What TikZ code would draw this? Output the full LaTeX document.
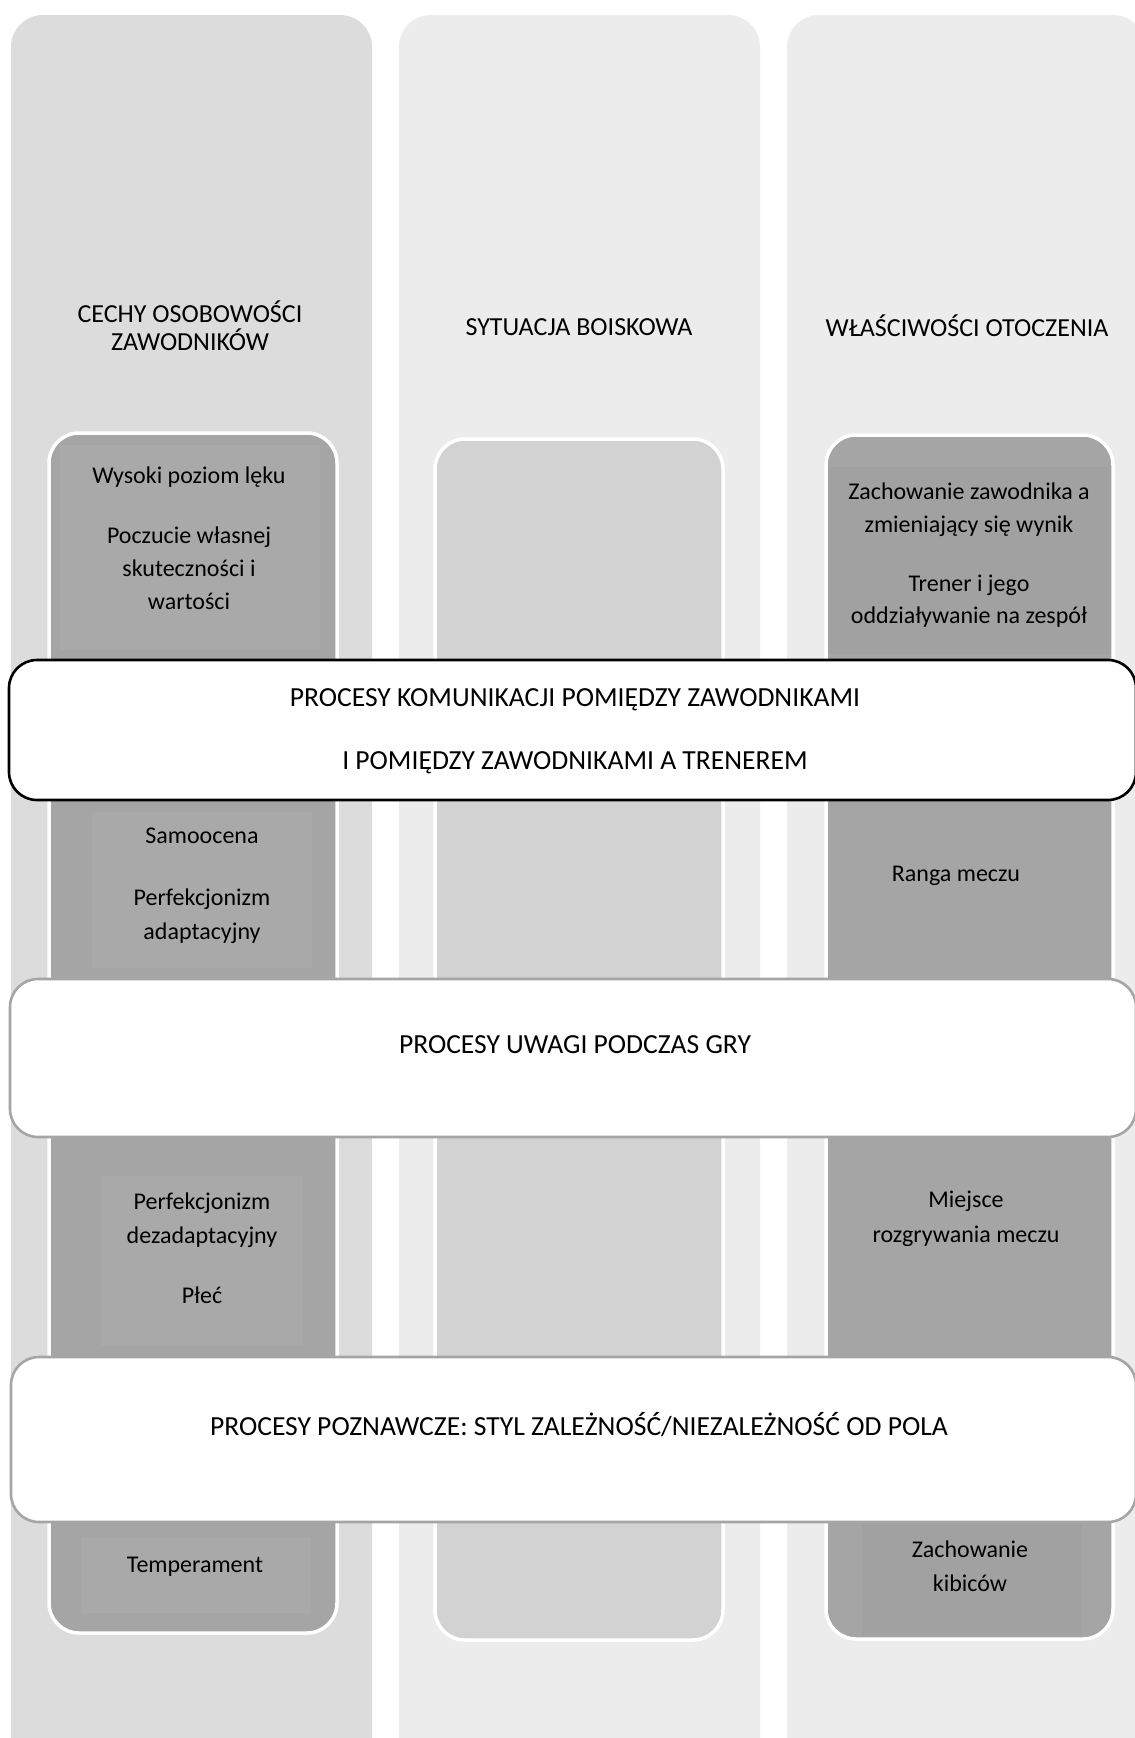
\documentclass[tikz,border=0pt]{standalone}
\usepackage{fontspec}
\setmainfont{Carlito}
\definecolor{colA}{HTML}{DCDCDC}
\definecolor{colB}{HTML}{ECECEC}
\definecolor{innerdark}{HTML}{A5A5A5}
\definecolor{innerlight}{HTML}{D2D2D2}
\definecolor{subl}{HTML}{A9A9A9}
\definecolor{subd}{HTML}{A1A1A1}
\definecolor{bandgray}{HTML}{A5A5A5}
\tikzset{
  itemtxt/.style={anchor=base, inner sep=0pt, font=\fontsize{24}{33}\selectfont, text=black},
  headtxt/.style={anchor=base, inner sep=0pt, font=\fontsize{26}{29}\selectfont, text=black},
  bandtxt/.style={anchor=base, inner sep=0pt, font=\fontsize{27.6}{31}\selectfont, text=black},
  innerbox/.style={draw=white, line width=3.5pt, rounded corners=30pt},
  bandbox/.style={fill=white, line width=2.6pt, rounded corners=28pt},
}
\begin{document}
\begin{tikzpicture}[x=1pt,y=-1pt]
\useasboundingbox[fill=white] (0,0) rectangle (1135,1738);
% columns
\fill[colA, rounded corners=32pt] (11,1800) -- (11,15) -- (372,15) -- (372,1800) -- cycle;
\fill[colB, rounded corners=32pt] (399,1800) -- (399,15) -- (760,15) -- (760,1800) -- cycle;
\fill[colB, rounded corners=32pt] (787,1800) -- (787,15) -- (1145,15) -- (1145,1800) -- cycle;
% inner boxes
\path[innerbox, fill=innerdark] (49,433) rectangle (337,1633);
\path[innerbox, fill=innerlight] (435,439) rectangle (723,1640);
\path[innerbox, fill=innerdark] (826,435) rectangle (1113,1639);
% sub rectangles
\fill[subl] (60,445) rectangle (320,650);
\fill[subl] (92,812) rectangle (312,968);
\fill[subl] (101,1176) rectangle (303,1346);
\fill[subl] (81,1538) rectangle (311,1613);
\fill[subd] (828,467) rectangle (1111,654);
\fill[subd] (862,1523) rectangle (1082,1635);
% headers
\node[headtxt] (h1a) at (190,322) {CECHY OSOBOWOŚCI};
\node[headtxt] (h1b) at (190,350) {ZAWODNIKÓW};
\node[headtxt] (h2) at (579,335) {SYTUACJA BOISKOWA};
\node[headtxt] (h3) at (967,336) {WŁAŚCIWOŚCI OTOCZENIA};
% column 1 items
\node[itemtxt] (c1a) at (189,483) {Wysoki poziom lęku};
\node[itemtxt] (c1b) at (189,543) {Poczucie własnej};
\node[itemtxt] (c1c) at (189,576) {skuteczności i};
\node[itemtxt] (c1d) at (189,609) {wartości};
\node[itemtxt] (c1e) at (202,843) {Samoocena};
\node[itemtxt] (c1f) at (202,905) {Perfekcjonizm};
\node[itemtxt] (c1g) at (202,939) {adaptacyjny};
\node[itemtxt] (c1h) at (202,1209) {Perfekcjonizm};
\node[itemtxt] (c1i) at (202,1243) {dezadaptacyjny};
\node[itemtxt] (c1j) at (202,1303) {Płeć};
\node[itemtxt] (c1k) at (195,1572) {Temperament};
% column 3 items
\node[itemtxt] (c3a) at (969,499) {Zachowanie zawodnika a};
\node[itemtxt] (c3b) at (969,532) {zmieniający się wynik};
\node[itemtxt] (c3c) at (969,591) {Trener i jego};
\node[itemtxt] (c3d) at (969,623) {oddziaływanie na zespół};
\node[itemtxt] (c3e) at (956,881) {Ranga meczu};
\node[itemtxt] (c3f) at (966,1207) {Miejsce};
\node[itemtxt] (c3g) at (966,1242) {rozgrywania meczu};
\node[itemtxt] (c3h) at (970,1557) {Zachowanie};
\node[itemtxt] (c3i) at (970,1591) {kibiców};
% bands
\draw[bandbox, draw=black] (9,660) rectangle (1136,800);
\draw[bandbox, draw=bandgray] (10,979) rectangle (1136,1137);
\draw[bandbox, draw=bandgray] (11,1357) rectangle (1136,1522);
\node[bandtxt] (b1a) at (575,706) {PROCESY KOMUNIKACJI POMIĘDZY ZAWODNIKAMI};
\node[bandtxt] (b1b) at (575,769) {I POMIĘDZY ZAWODNIKAMI A TRENEREM};
\node[bandtxt] (b2) at (575,1053) {PROCESY UWAGI PODCZAS GRY};
\node[bandtxt] (b3) at (579,1435) {PROCESY POZNAWCZE: STYL ZALEŻNOŚĆ/NIEZALEŻNOŚĆ OD POLA};
\end{tikzpicture}
\end{document}
